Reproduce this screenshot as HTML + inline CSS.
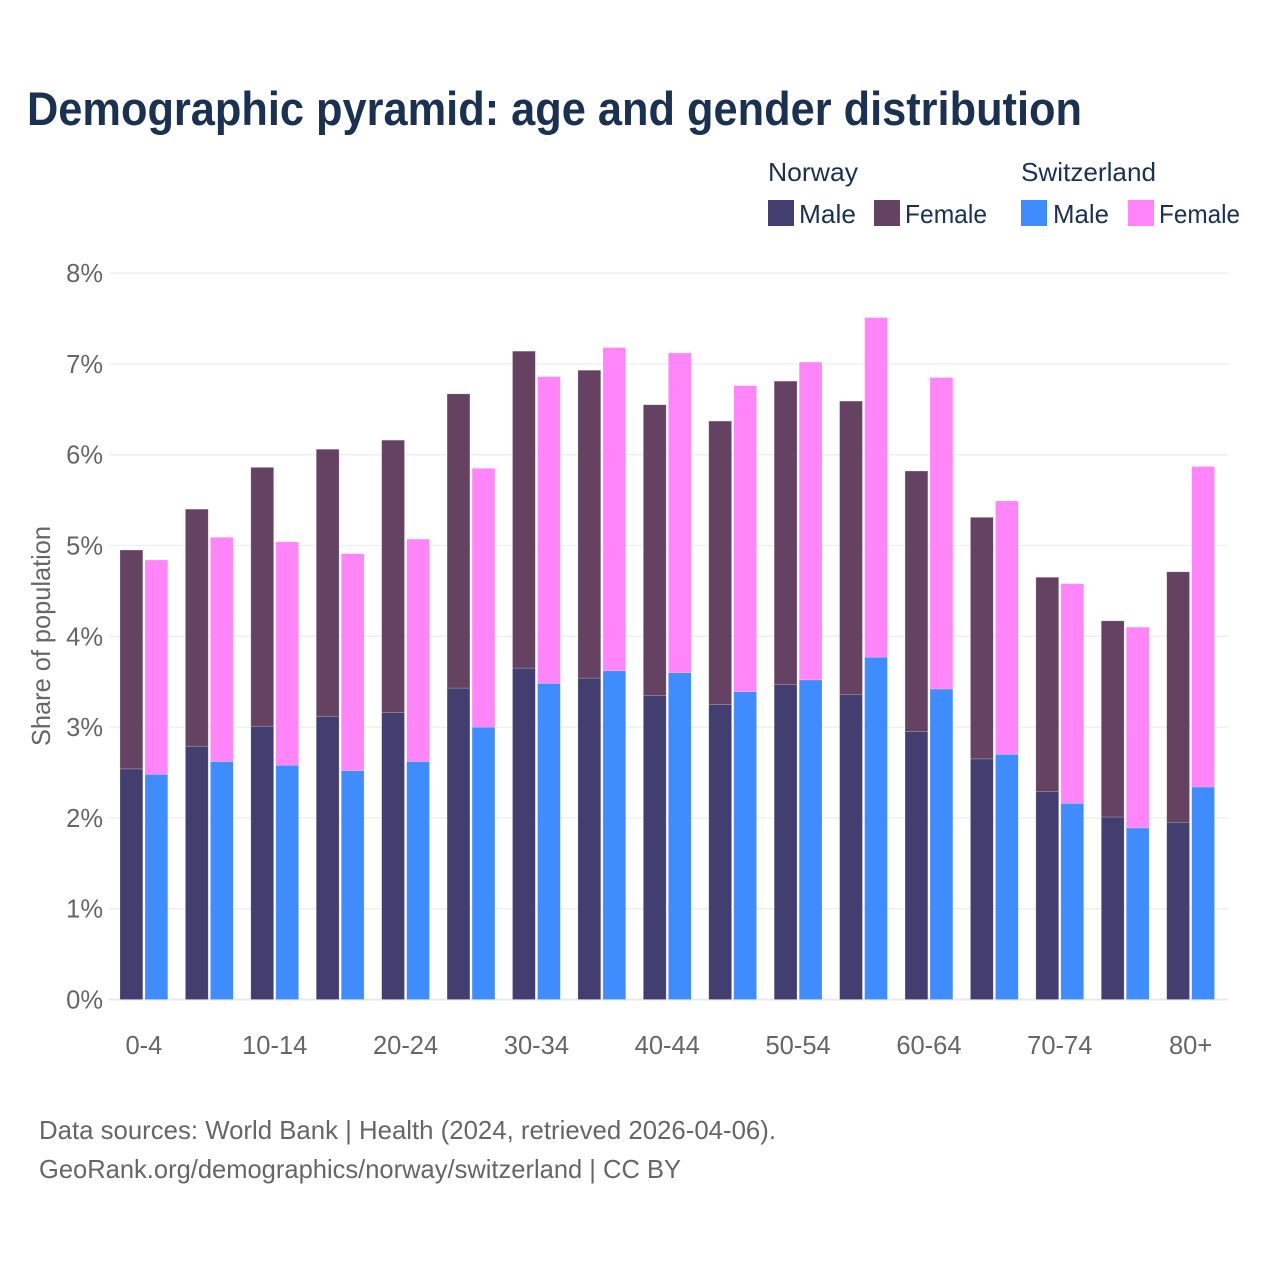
<!DOCTYPE html>
<html lang="en">
<head>
<meta charset="utf-8">
<title>Demographic pyramid: age and gender distribution</title>
<style>
  html, body { margin: 0; padding: 0; background: #fff; }
  svg { display: block; font-family: "Liberation Sans", sans-serif; }
</style>
</head>
<body>
<svg id="chart" xmlns="http://www.w3.org/2000/svg" width="1280" height="1280" viewBox="0 0 1280 1280">
  <rect x="0" y="0" width="1280" height="1280" fill="#ffffff"/>
  <text x="27" y="125" font-size="47" font-weight="700" fill="#1a3152" textLength="1055" lengthAdjust="spacingAndGlyphs">Demographic pyramid: age and gender distribution</text>

  <g font-size="26" fill="#1a3152">
    <text x="768" y="181" textLength="90" lengthAdjust="spacingAndGlyphs">Norway</text>
    <text x="1021" y="181" textLength="135" lengthAdjust="spacingAndGlyphs">Switzerland</text>
    <rect x="768" y="200" width="26" height="26" fill="#423f70"/>
    <text x="799" y="223" textLength="57" lengthAdjust="spacingAndGlyphs">Male</text>
    <rect x="874" y="200" width="26" height="26" fill="#664262"/>
    <text x="905" y="223" textLength="82" lengthAdjust="spacingAndGlyphs">Female</text>
    <rect x="1021" y="200" width="26" height="26" fill="#3f8cff"/>
    <text x="1053" y="223" textLength="56" lengthAdjust="spacingAndGlyphs">Male</text>
    <rect x="1128" y="200" width="26" height="26" fill="#ff85f8"/>
    <text x="1159" y="223" textLength="81" lengthAdjust="spacingAndGlyphs">Female</text>
  </g>

  <g id="grid"></g>
  <g id="y-ticks" font-size="25.5" fill="#666666" text-anchor="end"></g>
  <text transform="translate(50,636) rotate(-90)" text-anchor="middle" font-size="26" fill="#666666" textLength="220" lengthAdjust="spacingAndGlyphs">Share of population</text>
  <g id="bars"></g>
  <g id="x-ticks" font-size="25.5" fill="#666666" text-anchor="middle"></g>

  <g font-size="26" fill="#666666">
    <text x="39" y="1139" textLength="737" lengthAdjust="spacingAndGlyphs">Data sources: World Bank | Health (2024, retrieved 2026-04-06).</text>
    <text x="39" y="1178" textLength="642" lengthAdjust="spacingAndGlyphs">GeoRank.org/demographics/norway/switzerland | CC BY</text>
  </g>
</svg>
<script>
const categories = ["0-4","5-9","10-14","15-19","20-24","25-29","30-34","35-39","40-44","45-49","50-54","55-59","60-64","65-69","70-74","75-79","80+"];
const xTickLabels = ["0-4","10-14","20-24","30-34","40-44","50-54","60-64","70-74","80+"];
const yTickValues = [0,1,2,3,4,5,6,7,8];
const norwayMale = [2.54,2.79,3.01,3.12,3.16,3.43,3.65,3.54,3.35,3.25,3.47,3.36,2.95,2.65,2.29,2.01,1.95];
const norwayFemale = [2.41,2.61,2.85,2.94,3.00,3.24,3.49,3.39,3.20,3.12,3.34,3.23,2.87,2.66,2.36,2.16,2.76];
const switzerlandMale = [2.48,2.62,2.58,2.52,2.62,3.00,3.48,3.62,3.60,3.39,3.52,3.77,3.42,2.70,2.16,1.89,2.34];
const switzerlandFemale = [2.36,2.47,2.46,2.39,2.45,2.85,3.38,3.56,3.52,3.37,3.50,3.74,3.43,2.79,2.42,2.21,3.53];

const SVG_NS = "http://www.w3.org/2000/svg";
const yZero = 999.5;
const pxPerUnit = 90.8;
const xStart = 120;
const xStep = 65.42;
const barWidth = 22.8;
const barGap = 2.2;

function yScale(v) { return yZero - v * pxPerUnit; }
function groupX(i) { return xStart + i * xStep; }
function groupCenter(i) { return groupX(i) + barWidth + barGap / 2; }

const gridLayer = document.getElementById("grid");
const yTickLayer = document.getElementById("y-ticks");
const xTickLayer = document.getElementById("x-ticks");
const barLayer = document.getElementById("bars");

yTickValues.forEach(function (v) {
  const line = document.createElementNS(SVG_NS, "line");
  
  
  line.setAttribute("x1", 109);
  line.setAttribute("x2", 1228);
  line.setAttribute("y1", yScale(v));
  line.setAttribute("y2", yScale(v));
  line.setAttribute("stroke", v === 0 ? "#e9e9f2" : "#eeeeee");
  line.setAttribute("stroke-width", v === 0 ? 2 : 1.3);
  gridLayer.appendChild(line);

  const label = document.createElementNS(SVG_NS, "text");
  
  
  label.setAttribute("x", 103);
  label.setAttribute("y", yScale(v) + 9);
  label.textContent = v + "%";
  yTickLayer.appendChild(label);
});

xTickLabels.forEach(function (name) {
  const i = categories.indexOf(name);
  const label = document.createElementNS(SVG_NS, "text");
  
  
  label.setAttribute("x", groupCenter(i));
  label.setAttribute("y", 1054);
  label.textContent = name;
  xTickLayer.appendChild(label);
});

function addBar(x, low, high, color) {
  const bar = document.createElementNS(SVG_NS, "rect");
  
  
  bar.setAttribute("x", x);
  bar.setAttribute("y", yScale(high));
  bar.setAttribute("width", barWidth);
  bar.setAttribute("height", yScale(low) - yScale(high));
  bar.setAttribute("fill", color);
  bar.setAttribute("stroke", "#ffffff");
  bar.setAttribute("stroke-opacity", "0.3");
  bar.setAttribute("stroke-width", "0.6");
  barLayer.appendChild(bar);
}

categories.forEach(function (c, i) {
  const x1 = groupX(i);
  const x2 = x1 + barWidth + barGap;
  addBar(x1, 0, norwayMale[i], "#423f70");
  addBar(x1, norwayMale[i], norwayMale[i] + norwayFemale[i], "#664262");
  addBar(x2, 0, switzerlandMale[i], "#3f8cff");
  addBar(x2, switzerlandMale[i], switzerlandMale[i] + switzerlandFemale[i], "#ff85f8");
});
</script>
</body>
</html>
